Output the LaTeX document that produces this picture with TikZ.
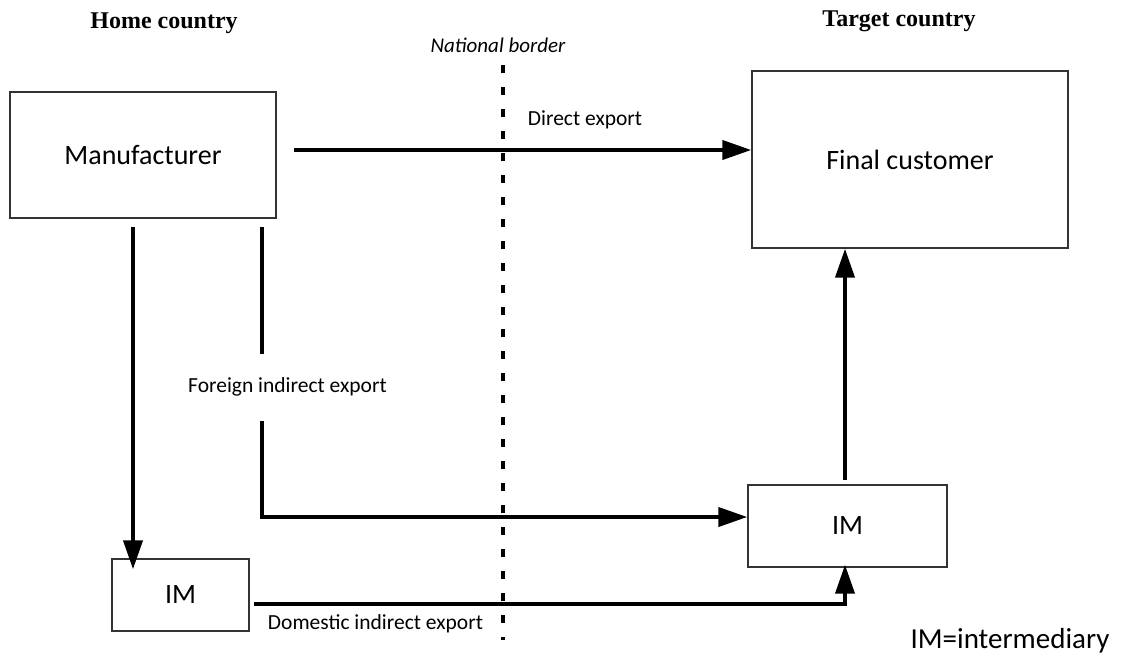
\documentclass[tikz,border=0pt]{standalone}
\usepackage{fontspec}
\setmainfont{Carlito}
\newfontfamily\timesf{Liberation Serif}
\usetikzlibrary{arrows.meta}
\begin{document}
\begin{tikzpicture}[x=1pt,y=-1pt,
  box/.style={draw=black!80,line width=1.4pt,inner sep=0pt,
    font=\fontsize{28}{34}\selectfont},
  flow/.style={line width=4pt,line join=miter,-{Triangle[length=29pt,width=19pt]}},
  flowline/.style={line width=4pt,line join=miter},
  lbl/.style={inner sep=0pt,font=\fontsize{21.5}{26}\selectfont},
  head/.style={inner sep=0pt,font=\timesf\bfseries\fontsize{24}{29}\selectfont},
  border/.style={line width=4pt,dash pattern=on 8pt off 14pt}]
\useasboundingbox[fill=white] (0,0) rectangle (1122,657);

% boxes
\node[box,minimum width=266pt,minimum height=126pt] (man) at (143,155) {Manufacturer};
\node[box,minimum width=316pt,minimum height=177pt] (fc) at (910,159.5) {Final customer};
\node[box,minimum width=199pt,minimum height=82pt] (imr) at (847.5,526) {IM};
\node[box,minimum width=137pt,minimum height=72pt] (iml) at (180.5,595) {IM};

% headings and labels
\node[head] (home) at (164,23) {Home country};
\node[head] (target) at (899,21) {Target country};
\node[lbl,font=\itshape\fontsize{21}{26}\selectfont] (nb) at (498,45) {National border};
\node[lbl] (de) at (585,120) {Direct export};
\node[lbl] (fie) at (287.5,387) {Foreign indirect export};
\node[lbl] (die) at (375.5,624) {Domestic indirect export};
\node[inner sep=0pt,font=\fontsize{29}{34}\selectfont] (key) at (1010,641) {IM=intermediary};

% national border
\coordinate (bt) at (503,65);
\coordinate (bb) at (503,640);
\draw[border] (bt) -- (bb);

% direct export
\coordinate (d0) at (294,150);
\draw[flow] (d0) -- (d0 -| fc.west);

% manufacturer -> domestic IM
\coordinate (m0) at (133,227);
\draw[flow] (m0) -- ([yshift=-11pt]m0 |- iml.north);

% foreign indirect export
\coordinate (f0) at (262,227);
\coordinate (f1) at (262,354);
\coordinate (f2) at (262,421);
\coordinate (f3) at (262,517);
\draw[flowline] (f0) -- (f1);
\draw[flow] (f2) -- (f3) -- (f3 -| imr.west);

% domestic indirect export
\coordinate (g0) at (254,604);
\coordinate (g1) at (845,604);
\draw[flow] (g0) -- (g1) -- ([yshift=3pt]g1 |- imr.south);

% IM -> final customer
\coordinate (u0) at (845,480);
\draw[flow] (u0) -- (u0 |- fc.south);
\end{tikzpicture}
\end{document}
